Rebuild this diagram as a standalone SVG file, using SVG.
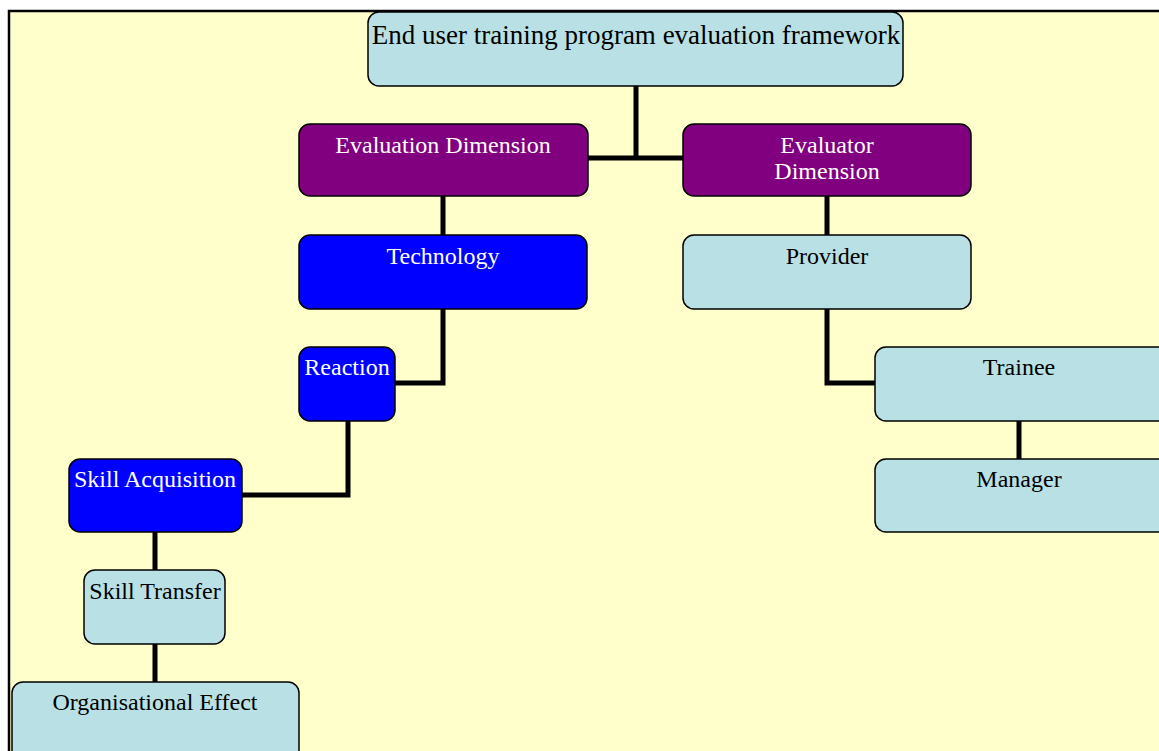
<svg xmlns="http://www.w3.org/2000/svg" width="1159" height="751" viewBox="0 0 1159 751">
<style>
.n{stroke:#000;stroke-width:1.5}
.lb{fill:#B9E0E4}
.pu{fill:#800080}
.bl{fill:#0000FF}
text{font-family:"Liberation Serif","Times New Roman",serif;font-size:24px;text-anchor:middle}
.w{fill:#fff}
.k{fill:#000}
.c{fill:none;stroke:#000;stroke-width:5}
</style>
<rect x="0" y="0" width="1159" height="751" fill="#fff"/>
<rect x="9" y="11" width="1170" height="760" fill="#FFFFCC" stroke="#000" stroke-width="2.5"/>
<g id="connectors">
<path class="c" d="M636 86V158M588 158H683"/>
<path class="c" d="M443 196V235"/>
<path class="c" d="M443 309V383H395"/>
<path class="c" d="M348 421V495H242"/>
<path class="c" d="M155 532V570"/>
<path class="c" d="M155 644V682"/>
<path class="c" d="M827 196V235"/>
<path class="c" d="M827 309V383H875"/>
<path class="c" d="M1019 421V459"/>
</g>
<g id="root"><rect class="n lb" x="368" y="12" width="535" height="74" rx="11"/><text class="k" x="636" y="44" style="font-size:27px">End user training program evaluation framework</text></g>
<g id="evaluation-dimension"><rect class="n pu" x="299" y="124" width="289" height="72" rx="11"/><text class="w" x="443" y="153">Evaluation Dimension</text></g>
<g id="evaluator-dimension"><rect class="n pu" x="683" y="124" width="288" height="72" rx="11"/><text class="w" x="827" y="153">Evaluator</text><text class="w" x="827" y="179">Dimension</text></g>
<g id="technology"><rect class="n bl" x="299" y="235" width="288" height="74" rx="11"/><text class="w" x="443" y="264">Technology</text></g>
<g id="reaction"><rect class="n bl" x="299" y="347" width="96" height="74" rx="11"/><text class="w" x="347" y="375">Reaction</text></g>
<g id="skill-acquisition"><rect class="n bl" x="69" y="459" width="173" height="73" rx="11"/><text class="w" x="155" y="487">Skill Acquisition</text></g>
<g id="skill-transfer"><rect class="n lb" x="84" y="570" width="141" height="74" rx="11"/><text class="k" x="155" y="599">Skill Transfer</text></g>
<g id="organisational-effect"><rect class="n lb" x="12" y="682" width="287" height="80" rx="11"/><text class="k" x="155" y="710">Organisational Effect</text></g>
<g id="provider"><rect class="n lb" x="683" y="235" width="288" height="74" rx="11"/><text class="k" x="827" y="264">Provider</text></g>
<g id="trainee"><rect class="n lb" x="875" y="347" width="295" height="74" rx="11"/><text class="k" x="1019" y="375">Trainee</text></g>
<g id="manager"><rect class="n lb" x="875" y="459" width="295" height="73" rx="11"/><text class="k" x="1019" y="487">Manager</text></g>
</svg>
